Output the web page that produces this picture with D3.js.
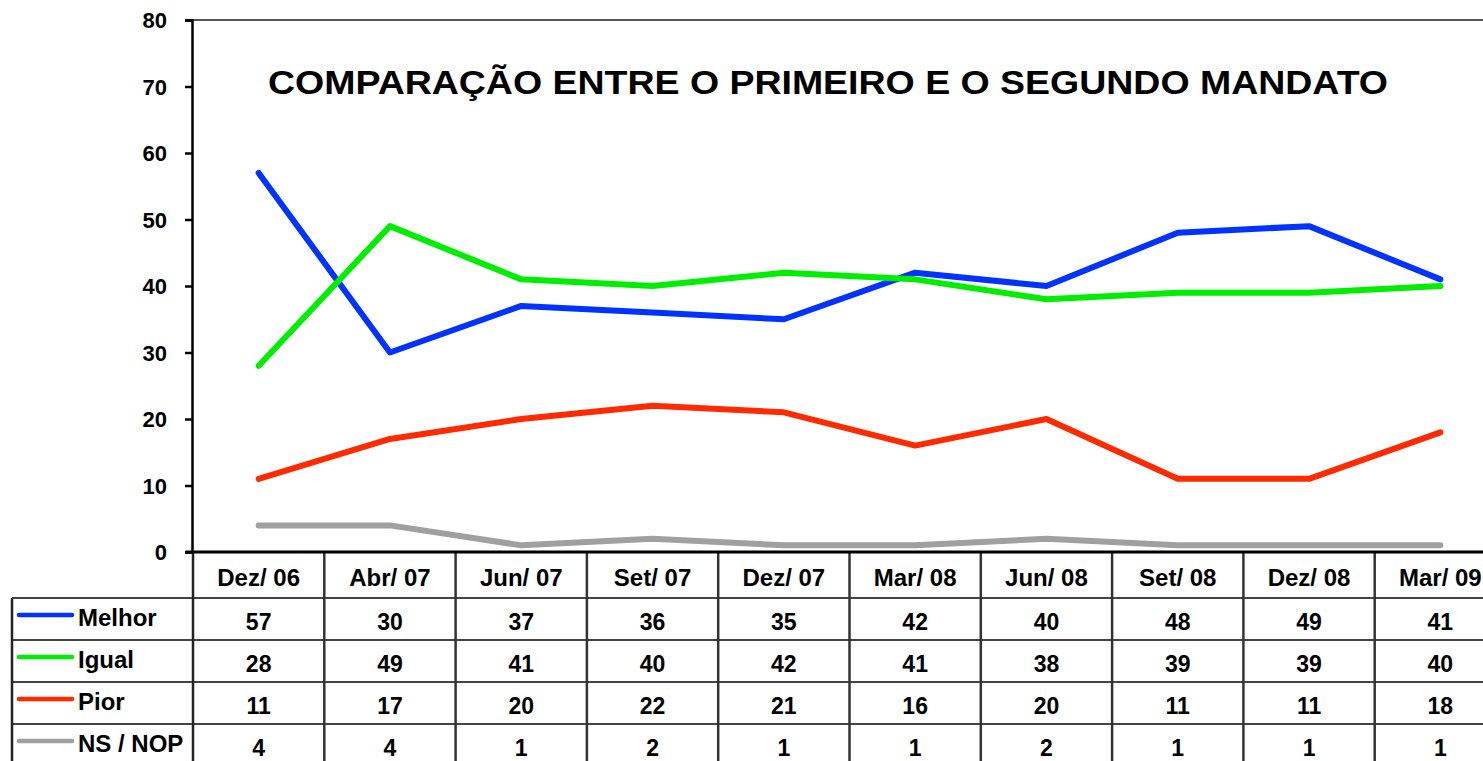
<!DOCTYPE html>
<html lang="pt">
<head>
    <meta charset="UTF-8">
    <title>Comparação entre o primeiro e o segundo mandato</title>
    <script src="https://d3js.org/d3.v7.min.js"></script>
    <style>
        body { margin: 0; background: #fff; }
        svg { display: block; }
        text { font-family: Arial, "Liberation Sans", sans-serif; font-weight: bold; fill: #000; }
        .axis text { font-size: 22px; }
    </style>
</head>
<body>
    <svg width="1483" height="761"></svg>
    <script>
        const categories = ["Dez/ 06", "Abr/ 07", "Jun/ 07", "Set/ 07", "Dez/ 07", "Mar/ 08", "Jun/ 08", "Set/ 08", "Dez/ 08", "Mar/ 09"];
        const seriesNames = ["Melhor", "Igual", "Pior", "NS / NOP"];
        const melhor = [57, 30, 37, 36, 35, 42, 40, 48, 49, 41];
        const igual  = [28, 49, 41, 40, 42, 41, 38, 39, 39, 40];
        const pior   = [11, 17, 20, 22, 21, 16, 20, 11, 11, 18];
        const nsnop  = [4, 4, 1, 2, 1, 1, 2, 1, 1, 1];
        const yTicks = [0, 10, 20, 30, 40, 50, 60, 70, 80];
        const title = "COMPARAÇÃO ENTRE O PRIMEIRO E O SEGUNDO MANDATO";

        const colors = ["#0033ff", "#00ee00", "#ff2a00", "#a0a0a0"];
        const seriesValues = [melhor, igual, pior, nsnop];
        const series = seriesNames.map((name, i) => ({name, values: seriesValues[i], color: colors[i]}));

        const svg = d3.select("svg");
        const plotLeft = 193, plotRight = 1506, plotTop = 20, plotBottom = 552;
        const rowH = 42, headerBottom = 598, tableLeft = 12;

        const x = d3.scaleBand().domain(categories).range([plotLeft, plotRight]);
        const y = d3.scaleLinear().domain([0, 80]).range([plotBottom, plotTop]);
        const cx = c => x(c) + x.bandwidth() / 2;

        // top border of plot
        svg.append("line")
            .attr("x1", 185).attr("x2", 1483)
            .attr("y1", plotTop).attr("y2", plotTop)
            .attr("stroke", "#555").attr("stroke-width", 2);

        // y axis
        const yAxis = svg.append("g")
            .attr("class", "axis")
            .attr("transform", `translate(${plotLeft - 1},0)`)
            .call(d3.axisLeft(y).tickValues(yTicks).tickSize(7).tickPadding(18));
        yAxis.select(".domain").attr("stroke", "#000").attr("stroke-width", 2.5);
        yAxis.selectAll(".tick line").attr("stroke", "#000").attr("stroke-width", 2.5);
        yAxis.selectAll(".tick text").attr("dy", "0.35em");

        // title
        svg.append("text")
            .attr("x", 268).attr("y", 94)
            .attr("textLength", 1120)
            .attr("lengthAdjust", "spacingAndGlyphs")
            .style("font-size", "33px")
            .text(title);

        // lines
        const line = d3.line()
            .x((d, i) => cx(categories[i]))
            .y(d => y(d));
        svg.append("g").selectAll("path")
            .data(series)
            .join("path")
            .attr("d", d => line(d.values))
            .attr("fill", "none")
            .attr("stroke", d => d.color)
            .attr("stroke-width", 6)
            .attr("stroke-linecap", "round")
            .attr("stroke-linejoin", "round");

        // table grid
        const grid = svg.append("g");
        const tableBottom = 770;
        const rowLines = d3.range(seriesNames.length).map(i => headerBottom + i * rowH);
        grid.selectAll("line.row")
            .data(rowLines)
            .join("line")
            .attr("class", "row")
            .attr("x1", tableLeft).attr("x2", 1483)
            .attr("y1", d => d).attr("y2", d => d)
            .attr("stroke", "#444").attr("stroke-width", 2);
        grid.selectAll("line.col")
            .data(categories.slice(1))
            .join("line")
            .attr("class", "col")
            .attr("x1", d => x(d)).attr("x2", d => x(d))
            .attr("y1", plotBottom).attr("y2", tableBottom)
            .attr("stroke", "#333").attr("stroke-width", 2.5);
        grid.append("line")
            .attr("x1", plotLeft).attr("x2", plotLeft)
            .attr("y1", plotBottom).attr("y2", tableBottom)
            .attr("stroke", "#222").attr("stroke-width", 2.5);
        grid.append("line")
            .attr("x1", tableLeft).attr("x2", tableLeft)
            .attr("y1", headerBottom).attr("y2", tableBottom)
            .attr("stroke", "#222").attr("stroke-width", 2.5);
        // x axis line
        grid.append("line")
            .attr("x1", plotLeft - 7).attr("x2", 1483)
            .attr("y1", plotBottom).attr("y2", plotBottom)
            .attr("stroke", "#000").attr("stroke-width", 3);

        // header labels
        svg.append("g").selectAll("text")
            .data(categories)
            .join("text")
            .attr("x", d => cx(d))
            .attr("y", 578)
            .attr("dy", "0.35em")
            .attr("text-anchor", "middle")
            .style("font-size", "24px")
            .text(d => d);

        // rows: legend swatch, name and values
        const rows = svg.append("g").selectAll("g")
            .data(series)
            .join("g")
            .attr("transform", (d, i) => `translate(0,${headerBottom + i * rowH + rowH / 2})`);
        rows.append("line")
            .attr("x1", 19).attr("x2", 72)
            .attr("y1", -4).attr("y2", -4)
            .attr("stroke", d => d.color)
            .attr("stroke-width", 4.5)
            .attr("stroke-linecap", "round");
        rows.append("text")
            .attr("x", 78).attr("y", 0)
            .attr("dy", "0.3em")
            .style("font-size", "24px")
            .text(d => d.name);
        rows.selectAll("text.val")
            .data(d => d.values)
            .join("text")
            .attr("class", "val")
            .attr("x", (d, i) => cx(categories[i]))
            .attr("y", 2.5)
            .attr("dy", "0.35em")
            .attr("text-anchor", "middle")
            .style("font-size", "23px")
            .text(d => d);
    </script>
</body>
</html>
